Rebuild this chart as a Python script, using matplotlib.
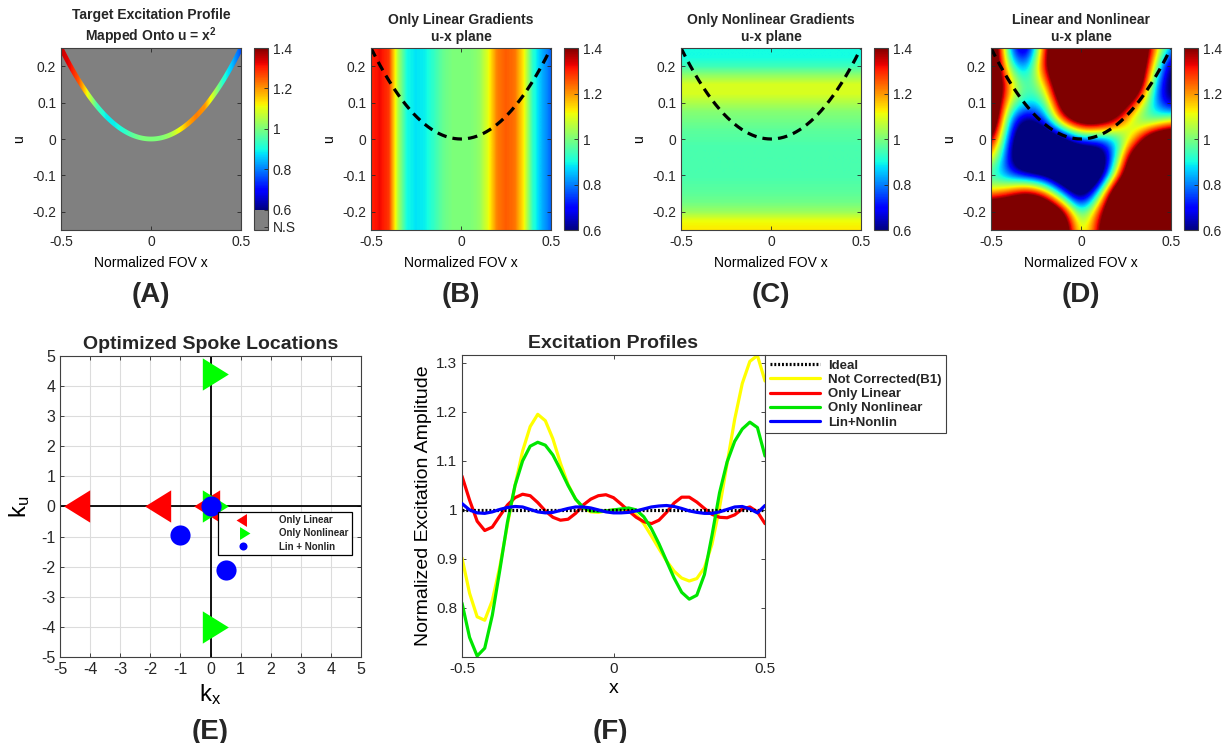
import numpy as np
import matplotlib
matplotlib.use('Agg')
import matplotlib.pyplot as plt
from matplotlib.colors import ListedColormap, Normalize
from matplotlib.patches import Polygon
from matplotlib.path import Path
from matplotlib.ticker import FuncFormatter
import matplotlib.cm as cm

plt.rcParams['font.family'] = ['Liberation Sans', 'DejaVu Sans']
plt.rcParams['axes.unicode_minus'] = False
plt.rcParams['mathtext.fontset'] = 'custom'
plt.rcParams['mathtext.rm'] = 'Liberation Sans'
plt.rcParams['mathtext.bf'] = 'Liberation Sans:bold'
plt.rcParams['xtick.direction'] = 'in'
plt.rcParams['ytick.direction'] = 'in'
TXT = '#262626'
plt.rcParams['text.color'] = TXT
plt.rcParams['xtick.color'] = TXT
plt.rcParams['ytick.color'] = TXT
plt.rcParams['axes.edgecolor'] = '#404040'

# ---------------- data ----------------
x_grid = [-0.5, -0.45, -0.4, -0.35, -0.3, -0.25, -0.2, -0.15, -0.1, -0.05, 0.0,
          0.05, 0.1, 0.15, 0.2, 0.25, 0.3, 0.35, 0.4, 0.45, 0.5]
target_A = [1.35, 1.32, 1.25, 1.10, 0.95, 0.89, 0.89, 0.92, 0.97, 1.0, 1.0,
            1.0, 1.03, 1.10, 1.18, 1.22, 1.20, 1.06, 0.92, 0.85, 0.76]
linear_B = [1.30, 1.32, 1.28, 1.05, 0.90, 0.88, 0.89, 0.93, 0.98, 1.0, 1.0,
            1.0, 1.02, 1.10, 1.22, 1.25, 1.23, 1.12, 0.92, 0.84, 0.78]
u_grid_C = [0.25, 0.225, 0.2, 0.175, 0.15, 0.125, 0.1, 0.075, 0.05, 0.025, 0.0,
            -0.025, -0.05, -0.075, -0.1, -0.125, -0.15, -0.175, -0.2, -0.225, -0.25]
nonlin_C = [0.90, 0.90, 0.94, 1.02, 1.09, 1.09, 1.05, 1.01, 0.99, 0.97, 0.96,
            0.95, 0.95, 0.95, 0.95, 0.96, 0.97, 0.99, 1.03, 1.11, 1.13]
D_x = [-0.5, -0.4, -0.3, -0.2, -0.1, 0.0, 0.1, 0.2, 0.3, 0.4, 0.5]
D_u = [0.25, 0.2, 0.15, 0.1, 0.05, 0.0, -0.05, -0.1, -0.15, -0.2, -0.25]
D_vals = [
    [1.8, 0.8, 0.45, 1.35, 1.8, 1.8, 1.8, 1.8, 1.8, 1.3, 0.8],
    [1.8, 0.95, 0.75, 1.4, 1.8, 1.8, 1.8, 1.8, 1.8, 1.15, 0.5],
    [1.8, 1.2, 0.9, 1.1, 1.8, 1.8, 1.8, 1.8, 1.8, 0.9, 0.5],
    [1.8, 1.05, 0.9, 0.9, 1.6, 1.8, 1.8, 1.7, 1.3, 0.85, 0.55],
    [1.8, 0.8, 0.5, 0.75, 1.3, 1.6, 1.6, 1.35, 0.95, 0.9, 1.1],
    [1.5, 0.7, 0.3, 0.3, 0.5, 0.8, 0.75, 0.85, 1.15, 1.7, 1.8],
    [1.2, 0.65, 0.2, 0.2, 0.2, 0.25, 0.35, 0.9, 1.7, 1.8, 1.8],
    [0.9, 0.75, 0.65, 0.55, 0.3, 0.25, 0.35, 1.2, 1.8, 1.8, 1.8],
    [1.15, 1.3, 1.5, 1.3, 0.8, 0.4, 0.9, 1.8, 1.8, 1.8, 1.8],
    [1.8, 1.8, 1.8, 1.8, 1.5, 0.85, 1.3, 1.8, 1.8, 1.8, 1.8],
    [1.8, 1.8, 1.8, 1.8, 1.7, 0.95, 1.4, 1.8, 1.8, 1.8, 1.8],
]

lin_kx = [-4.3, -1.6, 0.0]
lin_ku = [0.0, 0.0, 0.0]
nonlin_kx = [0.0, 0.0, 0.0]
nonlin_ku = [4.4, 0.0, -4.0]
both_kx = [0.0, -1.0, 0.5]
both_ku = [0.0, -0.95, -2.1]

prof_x = [-0.5, -0.475, -0.45, -0.425, -0.4, -0.375, -0.35, -0.325, -0.3, -0.275,
          -0.25, -0.225, -0.2, -0.175, -0.15, -0.125, -0.1, -0.075, -0.05, -0.025,
          0.0, 0.025, 0.05, 0.075, 0.1, 0.125, 0.15, 0.175, 0.2, 0.225,
          0.25, 0.275, 0.3, 0.325, 0.35, 0.375, 0.4, 0.425, 0.45, 0.475, 0.5]
ideal = [1.0] * 41
not_corrected = [0.902, 0.83, 0.782, 0.775, 0.815, 0.885, 0.97, 1.05, 1.12, 1.17,
                 1.195, 1.182, 1.145, 1.095, 1.052, 1.022, 1.004, 0.996, 0.995, 0.998,
                 1.0, 1.0, 0.998, 0.99, 0.972, 0.947, 0.921, 0.896, 0.875, 0.861,
                 0.855, 0.86, 0.882, 0.93, 1.005, 1.095, 1.185, 1.258, 1.303, 1.315, 1.263]
only_linear = [1.069, 1.02, 0.977, 0.958, 0.965, 0.988, 1.01, 1.025, 1.032, 1.029,
               1.015, 0.998, 0.985, 0.979, 0.981, 0.993, 1.01, 1.022, 1.029, 1.031,
               1.025, 1.012, 0.998, 0.985, 0.976, 0.972, 0.979, 0.995, 1.014, 1.026,
               1.026, 1.016, 1.003, 0.991, 0.985, 0.984, 0.99, 1.002, 1.006, 0.996, 0.972]
only_nonlinear = [0.81, 0.74, 0.702, 0.718, 0.785, 0.878, 0.975, 1.05, 1.10, 1.13,
                  1.138, 1.132, 1.112, 1.082, 1.05, 1.022, 1.005, 0.998, 0.997, 0.998,
                  1.0, 1.002, 1.004, 1.0, 0.986, 0.962, 0.931, 0.896, 0.861, 0.832,
                  0.818, 0.826, 0.868, 0.948, 1.035, 1.098, 1.14, 1.165, 1.179, 1.168, 1.11]
lin_nonlin = [1.013, 1.0, 0.994, 0.993, 0.996, 1.001, 1.005, 1.007, 1.006, 1.001,
              0.996, 0.994, 0.995, 0.999, 1.003, 1.006, 1.006, 1.004, 1.0, 0.996,
              0.994, 0.994, 0.995, 0.998, 1.002, 1.006, 1.008, 1.009, 1.007, 1.003,
              0.998, 0.995, 0.993, 0.993, 0.996, 1.001, 1.006, 1.007, 1.002, 0.994, 1.009]

top_titles = ["Target Excitation Profile\nMapped Onto u = x$^\\mathbf{2}$",
              "Only Linear Gradients\nu-x plane",
              "Only Nonlinear Gradients\nu-x plane",
              "Linear and Nonlinear\nu-x plane"]
panel_letters = ["(A)", "(B)", "(C)", "(D)", "(E)", "(F)"]

# ---------------- layout ----------------
W, H = 1223, 743
fig = plt.figure(figsize=(W / 100, H / 100), dpi=100)


def box(x0, y0, x1, y1):
    return [x0 / W, 1 - y1 / H, (x1 - x0) / W, (y1 - y0) / H]


fmt = FuncFormatter(lambda v, p: ('%g' % round(v, 6)))
jet = plt.get_cmap('jet')
norm = Normalize(0.6, 1.4)

ax_left = [61, 371, 681, 991]
axes_top = []
for i in range(4):
    x0 = ax_left[i]
    ax = fig.add_axes(box(x0, 48, x0 + 180, 230))
    cax = fig.add_axes(box(x0 + 193, 48, x0 + 207, 230))
    axes_top.append((ax, cax))

xs_curve = np.linspace(-0.5, 0.5, 401)
us_curve = xs_curve ** 2

for i, (ax, cax) in enumerate(axes_top):
    if i == 0:
        ax.set_facecolor('#808080')
        im = ax.imshow(np.array([target_A]), cmap=jet, norm=norm, aspect='auto',
                       extent=[-0.525, 0.525, -0.25, 0.25], interpolation='bilinear',
                       interpolation_stage='data')
        w = 2.4 / 364.0
        h = w * np.sqrt(1 + (4.04 * xs_curve) ** 2)
        verts = np.concatenate([np.column_stack([xs_curve, us_curve + h]),
                                np.column_stack([xs_curve[::-1], (us_curve - h)[::-1]])])
        poly = Polygon(verts, closed=True, transform=ax.transData)
        im.set_clip_path(poly)
        colors = np.vstack([np.tile(np.array([[0.5, 0.5, 0.5, 1.0]]), (100, 1)),
                            jet(np.linspace(0, 1, 800))])
        cm_a = ListedColormap(colors)
        sm = cm.ScalarMappable(norm=Normalize(0.5, 1.4), cmap=cm_a)
        cb = fig.colorbar(sm, cax=cax, ticks=[0.517, 0.6, 0.8, 1.0, 1.2, 1.4])
        cb.set_ticklabels(['N.S', '0.6', '0.8', '1', '1.2', '1.4'])
    else:
        if i == 1:
            data = np.array([linear_B])
            ext = [-0.525, 0.525, -0.25, 0.25]
            interp = 'bilinear'
        elif i == 2:
            data = np.array([nonlin_C]).T
            ext = [-0.5, 0.5, -0.2625, 0.2625]
            interp = 'bilinear'
        else:
            data = np.array(D_vals)
            ext = [-0.55, 0.55, -0.275, 0.275]
            interp = 'bicubic'
        im = ax.imshow(data, cmap=jet, norm=norm, aspect='auto', extent=ext,
                       interpolation=interp, interpolation_stage='data', origin='upper')
        ax.plot(xs_curve, us_curve, color='black', lw=2.3, dashes=(3.0, 1.9))
        cb = fig.colorbar(cm.ScalarMappable(norm=norm, cmap=jet), cax=cax,
                          ticks=[0.6, 0.8, 1.0, 1.2, 1.4])
        cb.set_ticklabels(['0.6', '0.8', '1', '1.2', '1.4'])
    cb.outline.set_edgecolor('#404040')
    cb.outline.set_linewidth(0.8)
    cax.tick_params(labelsize=10, direction='in', length=3, width=0.6, colors=TXT)
    ax.set_xlim(-0.5, 0.5)
    ax.set_ylim(-0.25, 0.25)
    ax.set_xticks([-0.5, 0, 0.5])
    ax.set_yticks([-0.2, -0.1, 0, 0.1, 0.2])
    ax.xaxis.set_major_formatter(fmt)
    ax.yaxis.set_major_formatter(fmt)
    ax.tick_params(labelsize=10, top=True, right=True, length=3, width=0.6)
    for s in ax.spines.values():
        s.set_linewidth(0.8)
    ax.set_xlabel('Normalized FOV x', fontsize=10, labelpad=5)
    ax.set_ylabel('u', fontsize=10, labelpad=4)
    ax.set_title(top_titles[i], fontsize=10, fontweight='bold', pad=5, linespacing=1.25)
    fig.text((ax_left[i] + 90) / W, 1 - 295 / H, panel_letters[i], fontsize=20,
             fontweight='bold', ha='center', va='center')

# ---------------- panel E ----------------
axE = fig.add_axes(box(60, 356, 361, 657))
axE.set_xlim(-5, 5)
axE.set_ylim(-5, 5)
axE.set_xticks(range(-5, 6))
axE.set_yticks(range(-5, 6))
axE.grid(True, color='#dcdcdc', lw=0.8)
axE.set_axisbelow(True)
axE.axhline(0, color='black', lw=1.3, zorder=1)
axE.axvline(0, color='black', lw=1.3, zorder=1)
tri_left = Path([(-2 / 3, 0.0), (1 / 3, -0.62), (1 / 3, 0.62), (-2 / 3, 0.0)], closed=True)
tri_right = Path([(2 / 3, 0.0), (-1 / 3, -0.62), (-1 / 3, 0.62), (2 / 3, 0.0)], closed=True)
axE.plot(lin_kx, lin_ku, ls='none', marker=tri_left, ms=25, color='#ff0000',
         mec='none', label='Only Linear', zorder=3)
axE.plot(nonlin_kx, nonlin_ku, ls='none', marker=tri_right, ms=25, color='#00ff00',
         mec='none', label='Only Nonlinear', zorder=4)
axE.plot(both_kx, both_ku, ls='none', marker='o', ms=14.5, color='#0000ff',
         mec='none', label='Lin + Nonlin', zorder=5)
axE.xaxis.set_major_formatter(fmt)
axE.yaxis.set_major_formatter(fmt)
axE.tick_params(labelsize=11.5, top=True, right=True, length=3, width=0.6)
for s in axE.spines.values():
    s.set_linewidth(0.8)
axE.set_title('Optimized Spoke Locations', fontsize=14, fontweight='bold', pad=5)
axE.set_xlabel(r'$\mathregular{k_x}$', fontsize=17, labelpad=4)
axE.set_ylabel(r'$\mathregular{k_u}$', fontsize=17, labelpad=6)
legE = axE.legend(loc='upper left', bbox_to_anchor=(218 / W, 1 - 512 / H),
                  bbox_transform=fig.transFigure, markerscale=0.4,
                  prop={'weight': 'bold', 'size': 7}, fancybox=False, framealpha=1,
                  edgecolor='black', handletextpad=1.4, borderpad=0.3,
                  labelspacing=0.35, handlelength=4.6, borderaxespad=0)
legE.get_frame().set_linewidth(0.9)
fig.text(210 / W, 1 - 732 / H, panel_letters[4], fontsize=20, fontweight='bold',
         ha='center', va='center')

# ---------------- panel F ----------------
axF = fig.add_axes(box(462, 355, 765, 657))
kw = dict(lw=2.3, solid_joinstyle='round', solid_capstyle='round')
axF.plot(prof_x, ideal, color='black', lw=2.3, ls=(0, (0.6, 0.6)), label='Ideal', zorder=6)
axF.plot(prof_x, not_corrected, color='#ffff00', label='Not Corrected(B1)', **kw)
axF.plot(prof_x, only_linear, color='#ff0000', label='Only Linear', **kw)
axF.plot(prof_x, only_nonlinear, color='#00e600', label='Only Nonlinear', **kw)
axF.plot(prof_x, lin_nonlin, color='#0000ff', label='Lin+Nonlin', zorder=7, **kw)
axF.set_xlim(-0.5, 0.5)
axF.set_ylim(0.7, 1.316)
axF.set_xticks([-0.5, 0, 0.5])
axF.set_yticks([0.8, 0.9, 1.0, 1.1, 1.2, 1.3])
axF.xaxis.set_major_formatter(fmt)
axF.yaxis.set_major_formatter(fmt)
axF.tick_params(labelsize=11, top=True, right=True, length=3, width=0.6)
for s in axF.spines.values():
    s.set_linewidth(0.8)
axF.set_title('Excitation Profiles', fontsize=14, fontweight='bold', pad=5)
axF.set_xlabel('x', fontsize=14, labelpad=3)
axF.set_ylabel('Normalized Excitation Amplitude', fontsize=14, labelpad=3)
legF = axF.legend(loc='upper left', bbox_to_anchor=(765 / W, 1 - 355 / H),
                  bbox_transform=fig.transFigure, prop={'weight': 'bold', 'size': 9.5},
                  fancybox=False, framealpha=1, edgecolor='#404040', handlelength=3.8,
                  handletextpad=0.6, borderpad=0.35, labelspacing=0.15, borderaxespad=0)
legF.get_frame().set_linewidth(0.8)
fig.text(610 / W, 1 - 732 / H, panel_letters[5], fontsize=20, fontweight='bold',
         ha='center', va='center')

fig.savefig('out.png', dpi=100)
